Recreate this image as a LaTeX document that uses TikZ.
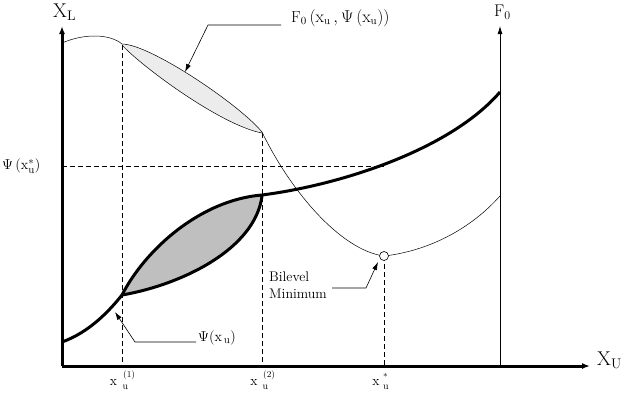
\documentclass[tikz,border=0pt]{standalone}
\usetikzlibrary{arrows.meta}
\begin{document}
\begin{tikzpicture}[x=1bp,y=-1bp,
  axisthick/.style={line width=3bp,-{Latex[length=8bp,width=6bp]}},
  axisthin/.style={line width=0.8bp,-{Latex[length=8bp,width=5bp]}},
  guide/.style={line width=0.6bp,dash pattern=on 5bp off 3bp},
  thincurve/.style={line width=0.5bp},
  thickcurve/.style={line width=3bp,line join=round},
  leader/.style={line width=0.6bp,-{Latex[length=8bp,width=5bp]}},
  lbl/.style={inner sep=0pt,font=\fontsize{15}{18}\selectfont},
  big/.style={inner sep=0pt,font=\fontsize{20}{22}\selectfont},
  tickx/.style={inner sep=0pt,anchor=base,font=\fontsize{14}{16}\selectfont},
  ticksup/.style={inner sep=0pt,anchor=base west,font=\fontsize{9}{10}\selectfont},
  ticksub/.style={inner sep=0pt,anchor=base west,font=\fontsize{10}{11}\selectfont}]
\useasboundingbox (0,0) rectangle (624,392);
% key points
\coordinate (O) at (62,366);
\coordinate (ytop) at (62,26);
\coordinate (xend) at (590,366);
\coordinate (fbot) at (500,366);
\coordinate (ftop) at (500,26);
\coordinate (A1) at (122,45);
\coordinate (A2) at (262,133);
\coordinate (M) at (384,256);
\coordinate (S) at (384,166);
% fills
\fill[gray!15] (122,44) .. controls (150,44) and (240,105) .. (262,132)
  -- (262,133) .. controls (220,125) and (140,65) .. (122,45) -- cycle;
\fill[gray!50] (122,295) .. controls (145,250) and (200,200) .. (262,195)
  -- (262,197) .. controls (255,250) and (180,285) .. (122,295) -- cycle;
% dashed guides
\draw[guide] (A1) -- (A1 |- O);
\draw[guide] (A2) -- (A2 |- O);
\draw[guide] (M) -- (M |- O);
\draw[guide] (O |- S) -- (S);
% thin F0 curve
\draw[thincurve] (62,43) .. controls (85,33) and (110,34) .. (122,44);
\draw[thincurve] (122,44) .. controls (150,44) and (240,105) .. (262,132);
\draw[thincurve] (122,45) .. controls (140,65) and (220,125) .. (262,133);
\draw[thincurve] (262,132) .. controls (290,190) and (340,250) .. (M);
\draw[thincurve] (M) .. controls (420,252) and (465,235) .. (500,196);
% thick Psi curve
\draw[thickcurve] (62,342) .. controls (90,332) and (110,310) .. (122,295);
\draw[thickcurve] (122,295) .. controls (145,250) and (200,200) .. (262,195);
\draw[thickcurve] (122,295) .. controls (180,285) and (255,250) .. (262,196);
\draw[thickcurve] (262,195) .. controls (340,185) and (450,150) .. (500,92);
% axes
\draw[axisthin] (fbot) -- (ftop);
\draw[axisthick] (O) -- (ytop);
\draw[axisthick] (O) -- (xend);
% minimum marker
\draw[line width=0.6bp,fill=white] (M) circle (4.5bp);
% labels
\node[big,anchor=west] (XL) at (53,12) {X\textsubscript{\fontsize{14}{14}\selectfont L}};
\node[big,anchor=west] (XU) at (597,360) {X\textsubscript{\fontsize{14}{14}\selectfont U}};
\node[lbl,anchor=west,font=\fontsize{17}{19}\selectfont] (F0) at (494,12) {F$_{\mathrm{0}}$};
\node[lbl,anchor=west,font=\fontsize{16}{18}\selectfont] (Flbl) at (291,18) {F$_0\,(\mathrm{x}_{\mathrm{u}}\,,\Psi\,(\mathrm{x}_{\mathrm{u}}))$};
\node[lbl,anchor=west] (Psistar) at (2,166) {$\Psi\,(\mathrm{x}^{*}_{\mathrm{u}})$};
\node[lbl,anchor=west] (Psilbl) at (198,338) {$\Psi(\mathrm{x}_{\,\mathrm{u}})$};
\node[lbl,anchor=west,align=left,font=\fontsize{14}{17}\selectfont] (Bil) at (269,285) {Bilevel\\Minimum};
% tick labels on the x axis
\node[tickx] (x1) at (113.5,385) {x};
\node[ticksup] (x1sup) at (123,377) {(1)};
\node[ticksub] (x1sub) at (122.5,389) {u};
\node[tickx] (x2) at (254,385) {x};
\node[ticksup] (x2sup) at (263,377) {(2)};
\node[ticksub] (x2sub) at (262.5,389) {u};
\node[tickx] (xs) at (376,385) {x};
\node[ticksup] (xssup) at (383,377.5) {$*$};
\node[ticksub] (xssub) at (383,389) {u};
% leaders
\coordinate (fl1) at (281,25);
\coordinate (fl2) at (208,25);
\coordinate (ftip) at (185,72);
\draw[leader] (fl1) -- (fl2) -- (ftip);
\coordinate (pl1) at (196,342);
\coordinate (pl2) at (135,342);
\coordinate (ptip) at (115,312);
\draw[leader] (pl1) -- (pl2) -- (ptip);
\coordinate (bl1) at (332,288);
\coordinate (bl2) at (366,288);
\coordinate (btip) at (378,262);
\draw[leader] (bl1) -- (bl2) -- (btip);
\end{tikzpicture}
\end{document}
